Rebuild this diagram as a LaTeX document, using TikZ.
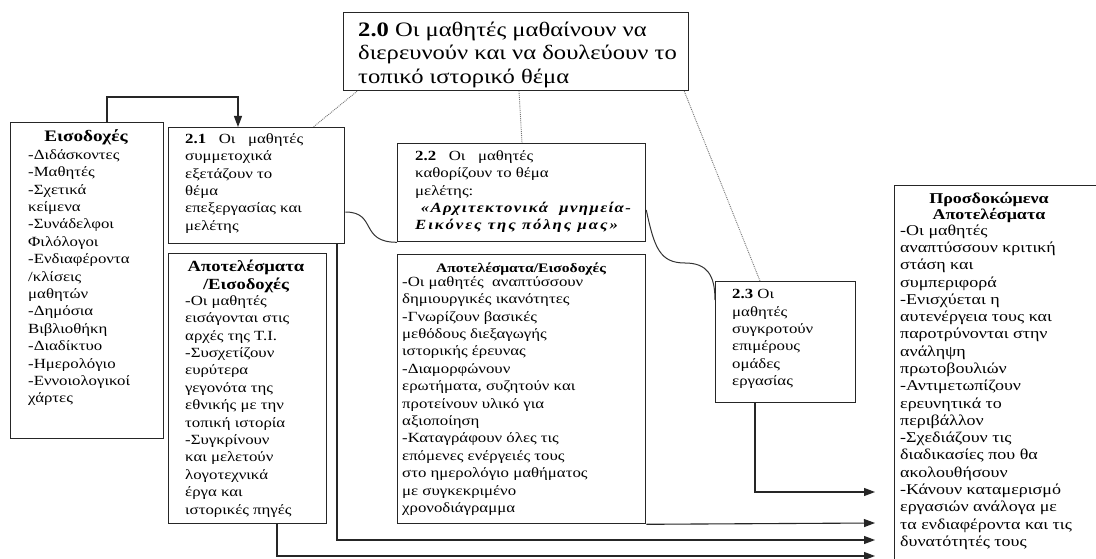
\documentclass[tikz,border=0pt]{standalone}
\usepackage{fontspec}
\setmainfont{Liberation Serif}[FakeStretch=1.2]
\usetikzlibrary{arrows.meta,calc}

\begin{document}
\begin{tikzpicture}[x=1pt,y=-1pt,
  box/.style={draw=black!85, line width=1.3pt, rectangle, inner sep=0pt, anchor=north west},
  % text blocks are placed by the baseline of their first line
  body/.style={anchor=north west, align=left, inner sep=0pt, yshift=12.18pt,
    font=\fontsize{14}{17.4}\selectfont, execute at begin node=\strut},
  head/.style={anchor=north, align=center, inner sep=0pt, yshift=12.18pt,
    font=\fontsize{14}{17.4}\selectfont\bfseries, execute at begin node=\strut},
  flow/.style={draw=black!85, line width=1.1pt, -{Triangle[length=11pt,width=8pt]}},
  link/.style={draw=black!80, line width=1pt},
  guide/.style={draw=black!55, line width=0.9pt, densely dotted}]

\useasboundingbox (0,0) rectangle (1096,559);
\fill[white] (0,0) rectangle (1096,559);
\clip (0,0) rectangle (1096,559);

% ---------- boxes ----------
\node[box, minimum width=345pt, minimum height=78pt]  (b20)  at (343,12)  {};
\node[box, minimum width=153pt, minimum height=316pt] (inp)  at (10,122)  {};
\node[box, minimum width=176pt, minimum height=116pt] (b21)  at (168,127) {};
\node[box, minimum width=158pt, minimum height=270pt] (b21r) at (168,253) {};
\node[box, minimum width=248pt, minimum height=98pt]  (b22)  at (397,143) {};
\node[box, minimum width=248pt, minimum height=269pt] (b22r) at (397,254) {};
\node[box, minimum width=140pt, minimum height=121pt] (b23)  at (715,281) {};
\node[box, minimum width=210pt, minimum height=400pt] (out)  at (894,185) {};

% ---------- texts ----------
\node[body, yshift=4.27pt, font=\fontsize{20.5}{23.5}\selectfont] (t20) at (358,38)
  {\textbf{2.0} Οι μαθητές μαθαίνουν να\\διερευνούν και να δουλεύουν το\\τοπικό ιστορικό θέμα};

\node[head, font=\fontsize{16}{17.4}\selectfont\bfseries] (hin) at (86,141.5) {Εισοδοχές};
\node[body] (tin) at (28,161.5)
  {-Διδάσκοντες\\-Μαθητές\\-Σχετικά\\κείμενα\\-Συνάδελφοι\\Φιλόλογοι\\-Ενδιαφέροντα\\/κλίσεις\\μαθητών\\-Δημόσια\\Βιβλιοθήκη\\-Διαδίκτυο\\-Ημερολόγιο\\-Εννοιολογικοί\\χάρτες};

\node[body] (t21) at (185,145.5)
  {\textbf{2.1} \ \ Οι \ \ μαθητές\\συμμετοχικά\\εξετάζουν το\\θέμα\\επεξεργασίας και\\μελέτης};

\node[head, yshift=0.42pt, font=\fontsize{15.5}{18}\selectfont\bfseries] (h21r) at (246,272.5) {Αποτελέσματα\\/Εισοδοχές};
\node[body] (t21r) at (185,307.5)
  {-Οι μαθητές\\εισάγονται στις\\αρχές της Τ.Ι.\\-Συσχετίζουν\\ευρύτερα\\γεγονότα της\\εθνικής με την\\τοπική ιστορία\\-Συγκρίνουν\\και μελετούν\\λογοτεχνικά\\έργα και\\ιστορικές πηγές};

\node[body] (t22) at (415,162.5)
  {\textbf{2.2} \ \ Οι \ \ μαθητές\\καθορίζουν το θέμα\\μελέτης:\\
   {\addfontfeature{LetterSpace=10}\textbf{\textit{ «Αρχιτεκτονικά \ μνημεία-}}}\\
   {\addfontfeature{LetterSpace=14}\textbf{\textit{Εικόνες της πόλης μας»}}}};

\node[head, yshift=-0.28pt, font=\fontsize{13}{17}\selectfont\bfseries] (h22r) at (521,272.5) {Αποτελέσματα/Εισοδοχές};
\node[body] (t22r) at (402,288.5)
  {-Οι μαθητές \ αναπτύσσουν\\δημιουργικές ικανότητες\\-Γνωρίζουν βασικές\\μεθόδους διεξαγωγής\\ιστορικής έρευνας\\-Διαμορφώνουν\\ερωτήματα, συζητούν και\\προτείνουν υλικό για\\αξιοποίηση\\-Καταγράφουν όλες τις\\επόμενες ενέργειές τους\\στο ημερολόγιο μαθήματος\\με συγκεκριμένο\\χρονοδιάγραμμα};

\node[body] (t23) at (732,301.5)
  {\textbf{2.3} Οι\\μαθητές\\συγκροτούν\\επιμέρους\\ομάδες\\εργασίας};

\node[head, yshift=-1.33pt, font=\fontsize{15}{15.5}\selectfont\bfseries] (hout) at (989,203.5) {Προσδοκώμενα\\Αποτελέσματα};
\node[body, font=\fontsize{15}{17.3}\selectfont] (tout) at (900,236.5)
  {-Οι μαθητές\\αναπτύσσουν κριτική\\στάση και\\συμπεριφορά\\-Ενισχύεται η\\αυτενέργεια τους και\\παροτρύνονται στην\\ανάληψη\\πρωτοβουλιών\\-Αντιμετωπίζουν\\ερευνητικά το\\περιβάλλον\\-Σχεδιάζουν τις\\διαδικασίες που θα\\ακολουθήσουν\\-Κάνουν καταμερισμό\\εργασιών ανάλογα με\\τα ενδιαφέροντα και τις\\δυνατότητές τους};

% ---------- dotted links from the main goal ----------
\draw[guide] ([xshift=14pt]b20.south west) -- ([xshift=-32pt]b21.north east);
\draw[guide] ([xshift=176pt]b20.south west) -- ([xshift=125pt]b22.north west);
\draw[guide] ([xshift=-5pt]b20.south east) -- ([xshift=45pt]b23.north west);

% ---------- inputs feed step 2.1 ----------
\draw[flow] ([xshift=97pt]inp.north west) -- ++(0,-25) -| ([xshift=70pt]b21.north west);

% ---------- curved links between the steps ----------
\draw[link] ([yshift=-85pt]b21.north east) .. controls +(32,0) and +(-38,0) .. (b22.south west);
\coordinate (bend) at (685,263);
\draw[link] ([yshift=-67pt]b22.north east) .. controls +(8,38) and +(-25,0) .. (bend)
  .. controls +(22,0) and +(0,-25) .. ([yshift=-19pt]b23.north west);

% ---------- flows into the expected outcomes ----------
\coordinate (e23)  at (875,492);
\coordinate (e22r) at (875,523);
\coordinate (e21)  at (875,540);
\coordinate (e21r) at (875,556);
\draw[flow] ([xshift=40pt]b23.south west) |- (e23);
\draw[flow] (b22r.south east) -- (e22r);
\draw[flow] ([xshift=169pt]b21.south west) |- (e21);
\draw[flow] ([xshift=109pt]b21r.south west) |- (e21r);
\end{tikzpicture}
\end{document}
